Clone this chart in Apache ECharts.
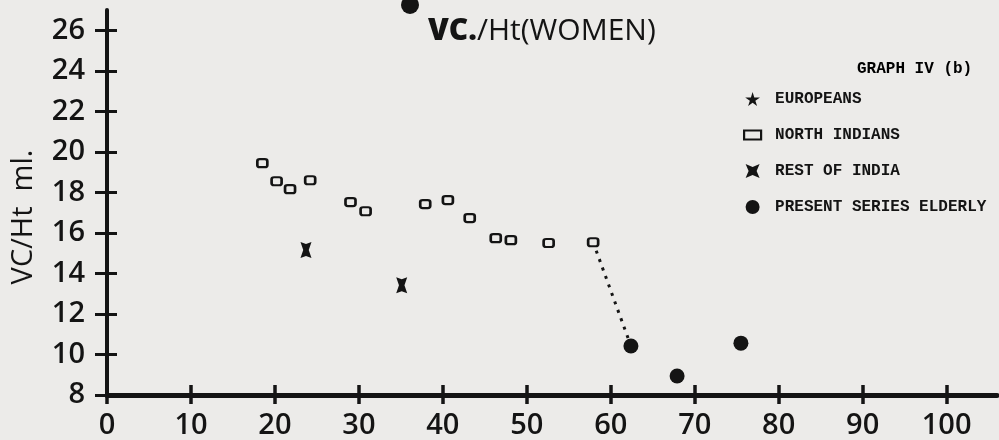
<!DOCTYPE html>
<html>
<head>
<meta charset="utf-8">
<script src="https://cdn.jsdelivr.net/npm/echarts@6/dist/echarts.min.js"></script>
<style>
html,body{margin:0;padding:0;background:#ecebe9;}
#c{width:999px;height:440px;}
</style>
</head>
<body>
<div id="c"></div>
<script>
// ---- data ----
const xTicks = [0, 10, 20, 30, 40, 50, 60, 70, 80, 90, 100];
const yTicks = [8, 10, 12, 14, 16, 18, 20, 22, 24, 26];

const europeansAge = [];
const europeansVC = [];

const northIndiansAge = [18.5, 20.2, 21.8, 24.2, 29.0, 30.8, 37.9, 40.6, 43.2, 46.3, 48.1, 52.6, 57.9];
const northIndiansVC  = [19.44, 18.55, 18.16, 18.60, 17.52, 17.07, 17.42, 17.62, 16.73, 15.74, 15.64, 15.50, 15.54];

const restIndiaAge = [23.7, 35.1];
const restIndiaVC  = [15.15, 13.42];

const elderlyAge = [62.4, 67.9, 75.5];
const elderlyVC  = [10.42, 8.94, 10.56];

// dotted connector: last North Indian group -> first elderly group
const linkAge = [57.9, 62.4];
const linkVC  = [15.54, 10.42];

const names = ['EUROPEANS', 'NORTH INDIANS', 'REST OF INDIA', 'PRESENT SERIES ELDERLY'];

function zip(a, b) { return a.map((v, i) => [v, b[i]]); }

const STAR = 'path://M50,0 L61,35 L98,35 L68,57 L79,91 L50,70 L21,91 L32,57 L2,35 L39,35 Z';
const BOWTIE = 'path://M0,0 L6,2 L12,0 L9,8 L12,16 L6,14 L0,16 L3,8 Z';
const XMARK = 'path://M0,0 L7,3 L14,0 L11,7 L14,14 L7,11 L0,14 L3,7 Z';
const RECT = 'path://M0,0 L17,0 L17,9 L0,9 Z';
const BG = '#ecebe9';
const INK = '#141414';

const tickFont = { fontFamily: 'Open Sans', fontWeight: 600, fontSize: 29, color: INK };
const monoFont = { fontFamily: 'Liberation Mono', fontWeight: 'bold', fontSize: 16, color: INK };

const chart = echarts.init(document.getElementById('c'), null, { renderer: 'canvas' });

chart.setOption({
  backgroundColor: BG,
  animation: false,
  title: {
    text: '{b|VC.}{n|/Ht(WOMEN)}',
    left: 423, top: 11,
    textStyle: {
      rich: {
        b: { fontFamily: 'Open Sans', fontWeight: 800, fontSize: 30, color: INK },
        n: { fontFamily: 'Open Sans', fontWeight: 500, fontSize: 30, color: INK }
      }
    }
  },
  grid: { left: 107, right: 2, top: 10, bottom: 45, containLabel: false },
  xAxis: [
    {
      type: 'value', min: 0, max: 106, interval: 10, position: 'bottom',
      axisLine: { onZero: false, lineStyle: { color: INK, width: 5, cap: 'round' } },
      axisTick: { customValues: xTicks, length: 9, lineStyle: { color: INK, width: 3.5 } },
      axisLabel: Object.assign({ customValues: xTicks, margin: 16 }, tickFont),
      splitLine: { show: false }
    },
    {
      type: 'value', min: 0, max: 106, interval: 10, position: 'bottom',
      axisLine: { show: false, onZero: false },
      axisTick: { inside: true, customValues: xTicks, length: 10, lineStyle: { color: INK, width: 3.5 } },
      axisLabel: { show: false },
      splitLine: { show: false }
    }
  ],
  yAxis: [
    {
      type: 'value', min: 8, max: 27, interval: 2, position: 'left',
      axisLine: { onZero: false, lineStyle: { color: INK, width: 4 } },
      axisTick: { customValues: yTicks, length: 12, lineStyle: { color: INK, width: 3 } },
      axisLabel: Object.assign({ customValues: yTicks, margin: 22 }, tickFont),
      splitLine: { show: false }
    },
    {
      type: 'value', min: 8, max: 27, interval: 2, position: 'left',
      axisLine: { show: false, onZero: false },
      axisTick: { inside: true, customValues: yTicks, length: 10, lineStyle: { color: INK, width: 3 } },
      axisLabel: { show: false },
      splitLine: { show: false }
    }
  ],
  legend: {
    orient: 'vertical',
    left: 738, top: 86,
    itemWidth: 17, itemHeight: 14, itemGap: 20,
    textStyle: Object.assign({ padding: [0, 0, 0, 9] }, monoFont),
    data: [
      { name: names[0], icon: STAR },
      { name: names[1], icon: RECT, itemStyle: { color: BG, borderColor: INK, borderWidth: 2.2 } },
      { name: names[2], icon: XMARK },
      { name: names[3], icon: 'circle' }
    ]
  },
  graphic: [
    { type: 'text', left: 857, top: 61, style: Object.assign({ text: 'GRAPH IV (b)' }, monoFont) },
    { type: 'text', x: 24, y: 217, rotation: Math.PI / 2,
      style: { text: 'VC/Ht  ml.', fontFamily: 'Open Sans', fontWeight: 500, fontSize: 29, fill: INK,
               align: 'center', verticalAlign: 'middle' } },
    { type: 'circle', shape: { cx: 410, cy: 5, r: 9 }, style: { fill: INK } }
  ],
  series: [
    {
      name: names[0], type: 'scatter', symbol: STAR, symbolSize: 14, symbolKeepAspect: true,
      itemStyle: { color: INK, opacity: 1 }, data: zip(europeansAge, europeansVC)
    },
    {
      name: names[1], type: 'scatter', symbol: 'roundRect', symbolSize: [10, 8], symbolKeepAspect: true,
      itemStyle: { color: BG, borderColor: INK, borderWidth: 2.4, opacity: 1 },
      data: zip(northIndiansAge, northIndiansVC), z: 3
    },
    {
      name: names[2], type: 'scatter', symbol: BOWTIE, symbolSize: [11, 16],
      itemStyle: { color: INK, opacity: 1 }, data: zip(restIndiaAge, restIndiaVC)
    },
    {
      name: names[3], type: 'scatter', symbol: 'circle', symbolSize: 15,
      itemStyle: { color: INK, opacity: 1 }, data: zip(elderlyAge, elderlyVC), z: 4
    },
    {
      name: 'link', type: 'line', showSymbol: false, symbol: 'none',
      lineStyle: { color: INK, width: 3, type: [3, 6] },
      data: zip(linkAge, linkVC), z: 1
    }
  ]
});
</script>
</body>
</html>
